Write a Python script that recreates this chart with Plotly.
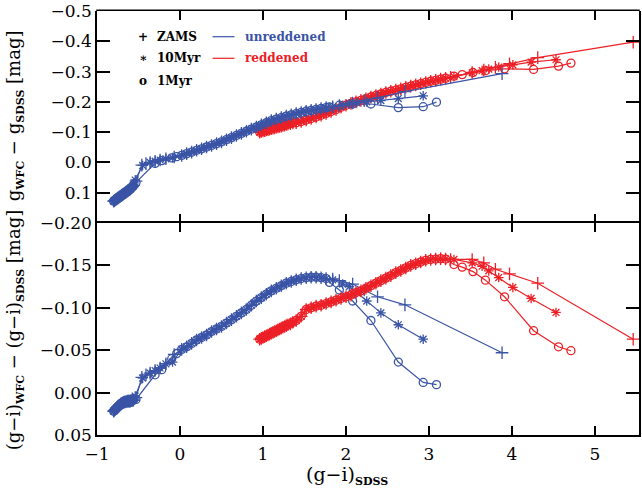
import plotly.graph_objects as go
from plotly.subplots import make_subplots

BLUE = '#3a54a6'
RED = '#ec2027'

# ---------------- unreddened (blue) ----------------
# shared clump of hot stars
bc_x = [-0.80, -0.79, -0.78, -0.77, -0.76, -0.75, -0.74, -0.73, -0.72, -0.71, -0.70, -0.69, -0.68,
        -0.67, -0.66, -0.65, -0.64, -0.63, -0.62, -0.61, -0.60, -0.59, -0.58, -0.57, -0.56]
bc_top = [0.128, 0.126, 0.124, 0.122, 0.120, 0.118, 0.116, 0.114, 0.112, 0.110, 0.108, 0.106, 0.104,
          0.102, 0.100, 0.098, 0.096, 0.094, 0.092, 0.090, 0.088, 0.085, 0.082, 0.079, 0.076]
bc_bot = [0.022, 0.021, 0.020, 0.019, 0.018, 0.017, 0.016, 0.015, 0.014, 0.013, 0.0125, 0.012, 0.0115,
          0.011, 0.011, 0.0105, 0.0105, 0.010, 0.010, 0.010, 0.010, 0.0095, 0.0095, 0.009, 0.009]

# shared early segment (ZAMS, 10Myr)
bm1_x = [-0.36, -0.30, -0.24, -0.17]
bm1_top = [0.000, -0.004, -0.008, -0.012]
bm1_bot = [-0.023, -0.026, -0.029, -0.034]

# shared main sequence (all ages)
bm2_x = [0.02, 0.08, 0.14, 0.20, 0.26, 0.32, 0.38, 0.44, 0.50, 0.56, 0.62, 0.68, 0.74, 0.80, 0.86,
         0.92, 0.98, 1.04, 1.10, 1.16, 1.22, 1.28, 1.34, 1.40, 1.46, 1.52, 1.58, 1.64, 1.70, 1.76]
bm2_top = [-0.023, -0.029, -0.034, -0.040, -0.045, -0.051, -0.056, -0.062, -0.068, -0.075, -0.082,
           -0.089, -0.096, -0.103, -0.110, -0.117, -0.124, -0.131, -0.138, -0.143, -0.148, -0.153,
           -0.157, -0.161, -0.165, -0.169, -0.172, -0.175, -0.178, -0.181]
bm2_bot = [-0.051, -0.054, -0.058, -0.062, -0.065, -0.068, -0.072, -0.075, -0.078, -0.082, -0.086,
           -0.090, -0.094, -0.098, -0.103, -0.108, -0.112, -0.116, -0.120, -0.123, -0.126, -0.129,
           -0.131, -0.133, -0.1345, -0.1355, -0.136, -0.136, -0.1355, -0.1345]

# blue ZAMS specific parts
bz_link_x = [-0.53, -0.46, -0.41]
bz_link_top = [0.062, 0.009, 0.004]
bz_link_bot = [0.006, -0.018, -0.021]
bz_mid_x = [-0.07]
bz_mid_top = [-0.018]
bz_mid_bot = [-0.045]
bz_tail_x = [1.84, 1.92, 2.08, 2.22, 2.38, 2.71, 3.88]
bz_tail_top = [-0.184, -0.188, -0.196, -0.204, -0.213, -0.234, -0.293]
bz_tail_bot = [-0.134, -0.132, -0.128, -0.121, -0.113, -0.1035, -0.047]

# blue 10 Myr specific parts
b10_link_x = [-0.54, -0.45]
b10_link_top = [0.058, 0.010]
b10_link_bot = [0.004, -0.017]
b10_mid_x = [-0.09]
b10_mid_top = [-0.016]
b10_mid_bot = [-0.036]
b10_tail_x = [1.84, 1.96, 2.04, 2.13, 2.25, 2.42, 2.63, 2.93]
b10_tail_top = [-0.184, -0.189, -0.193, -0.197, -0.200, -0.204, -0.211, -0.220]
b10_tail_bot = [-0.133, -0.128, -0.125, -0.118, -0.108, -0.094, -0.080, -0.063]

# blue 1 Myr specific parts
b1_link_x = [-0.53, -0.30, -0.22, -0.10, -0.04]
b1_link_top = [0.066, 0.003, -0.006, -0.015, -0.019]
b1_link_bot = [0.008, -0.021, -0.027, -0.040, -0.046]
b1_tail_x = [1.80, 1.92, 2.08, 2.30, 2.63, 2.93, 3.09]
b1_tail_top = [-0.183, -0.189, -0.193, -0.193, -0.181, -0.184, -0.199]
b1_tail_bot = [-0.130, -0.121, -0.108, -0.085, -0.036, -0.012, -0.0094]

# ---------------- reddened (red) ----------------
rc_x = [0.96, 0.98, 1.00, 1.02, 1.04, 1.06, 1.08, 1.10, 1.12, 1.14, 1.16, 1.18, 1.20, 1.22, 1.24,
        1.26, 1.28, 1.30, 1.33, 1.36]
rc_top = [-0.100, -0.102, -0.104, -0.105, -0.107, -0.108, -0.110, -0.111, -0.113, -0.114, -0.116,
          -0.117, -0.119, -0.120, -0.122, -0.123, -0.125, -0.126, -0.128, -0.130]
rc_bot = [-0.063, -0.064, -0.065, -0.066, -0.067, -0.068, -0.069, -0.070, -0.071, -0.072, -0.073,
          -0.074, -0.075, -0.076, -0.077, -0.078, -0.079, -0.080, -0.081, -0.083]

rm_x = [1.40, 1.46, 1.52, 1.58, 1.64, 1.70, 1.76, 1.82, 1.88, 1.94, 2.00, 2.06, 2.12, 2.18, 2.24,
        2.30, 2.36, 2.42, 2.48, 2.54, 2.60, 2.66, 2.72, 2.78, 2.84, 2.90, 2.96, 3.02, 3.08, 3.14, 3.20]
rm_top = [-0.131, -0.135, -0.140, -0.145, -0.150, -0.156, -0.162, -0.168, -0.175, -0.182, -0.189,
          -0.195, -0.200, -0.205, -0.210, -0.216, -0.221, -0.226, -0.231, -0.235, -0.239, -0.243,
          -0.248, -0.252, -0.256, -0.260, -0.264, -0.268, -0.271, -0.275, -0.278]
rm_bot = [-0.085, -0.090, -0.098, -0.100, -0.102, -0.103, -0.105, -0.107, -0.109, -0.111, -0.113,
          -0.115, -0.118, -0.120, -0.123, -0.126, -0.129, -0.132, -0.135, -0.138, -0.1415, -0.144,
          -0.147, -0.150, -0.152, -0.154, -0.156, -0.157, -0.1575, -0.158, -0.1575]

rz_tail_x = [3.26, 3.52, 3.66, 3.80, 3.97, 4.31, 5.46]
rz_tail_top = [-0.281, -0.297, -0.305, -0.314, -0.326, -0.346, -0.397]
rz_tail_bot = [-0.157, -0.157, -0.153, -0.1455, -0.140, -0.129, -0.063]

r10_tail_x = [3.30, 3.52, 3.64, 3.72, 3.84, 4.01, 4.23, 4.53]
r10_tail_top = [-0.283, -0.296, -0.303, -0.308, -0.315, -0.322, -0.331, -0.339]
r10_tail_bot = [-0.157, -0.153, -0.149, -0.1435, -0.1357, -0.124, -0.111, -0.0945]

r1_tail_x = [3.30, 3.40, 3.53, 3.68, 3.91, 4.26, 4.56, 4.71]
r1_tail_top = [-0.285, -0.290, -0.297, -0.303, -0.309, -0.307, -0.318, -0.328]
r1_tail_bot = [-0.151, -0.148, -0.1427, -0.1326, -0.113, -0.073, -0.054, -0.0494]

# tick labels
x_ticks = [-1, 0, 1, 2, 3, 4, 5]
x_labels = ['\u22121', '0', '1', '2', '3', '4', '5']
top_ticks = [-0.5, -0.4, -0.3, -0.2, -0.1, 0.0, 0.1]
top_labels = ['\u22120.5', '\u22120.4', '\u22120.3', '\u22120.2', '\u22120.1', '0.0', '0.1']
bot_ticks = [-0.20, -0.15, -0.10, -0.05, 0.00, 0.05]
bot_labels = ['\u22120.20', '\u22120.15', '\u22120.10', '\u22120.05', '0.00', '0.05']


def cat(*lists):
    out = []
    for l in lists:
        out += l
    return out


series = {
    'blue': [
        ('cross-thin-open',
         cat(bc_x, bz_link_x, bm1_x, bz_mid_x, bm2_x, bz_tail_x),
         cat(bc_top, bz_link_top, bm1_top, bz_mid_top, bm2_top, bz_tail_top),
         cat(bc_bot, bz_link_bot, bm1_bot, bz_mid_bot, bm2_bot, bz_tail_bot)),
        ('asterisk-open',
         cat(bc_x, b10_link_x, bm1_x, b10_mid_x, bm2_x, b10_tail_x),
         cat(bc_top, b10_link_top, bm1_top, b10_mid_top, bm2_top, b10_tail_top),
         cat(bc_bot, b10_link_bot, bm1_bot, b10_mid_bot, bm2_bot, b10_tail_bot)),
        ('circle-open',
         cat(bc_x, b1_link_x, bm2_x, b1_tail_x),
         cat(bc_top, b1_link_top, bm2_top, b1_tail_top),
         cat(bc_bot, b1_link_bot, bm2_bot, b1_tail_bot)),
    ],
    'red': [
        ('cross-thin-open', cat(rc_x, rm_x, rz_tail_x), cat(rc_top, rm_top, rz_tail_top),
         cat(rc_bot, rm_bot, rz_tail_bot)),
        ('asterisk-open', cat(rc_x, rm_x, r10_tail_x), cat(rc_top, rm_top, r10_tail_top),
         cat(rc_bot, rm_bot, r10_tail_bot)),
        ('circle-open', cat(rc_x, rm_x, r1_tail_x), cat(rc_top, rm_top, r1_tail_top),
         cat(rc_bot, rm_bot, r1_tail_bot)),
    ],
}
colors = {'blue': BLUE, 'red': RED}
msize = {'cross-thin-open': 9, 'asterisk-open': 8, 'circle-open': 8}

fig = make_subplots(rows=2, cols=1, shared_xaxes=True, vertical_spacing=0)


def add(group, row):
    for sym, xs, ytop, ybot in series[group]:
        fig.add_trace(go.Scatter(
            x=xs, y=ytop if row == 1 else ybot, mode='lines+markers',
            line=dict(color=colors[group], width=1.2),
            marker=dict(symbol=sym, size=msize[sym], color=colors[group],
                        line=dict(color=colors[group], width=1.3)),
            showlegend=False, hoverinfo='skip'), row=row, col=1)


add('red', 1)
add('blue', 1)
add('blue', 2)
add('red', 2)

W, H = 642, 492
ML, MR, MT, MB = 97, 1, 11, 57
PW, PH = W - ML - MR, H - MT - MB
LW = 1.5

SERIF = 'DejaVu Serif'
axis_common = dict(linecolor='black', linewidth=LW, mirror='ticks',
                   ticks='inside', tickcolor='black', tickwidth=1.5,
                   showgrid=False, zeroline=False)

fig.update_xaxes(range=[-1, 5.53], tickvals=x_ticks, ticklen=9, **axis_common)
# top panel: no own x line (the shared border comes from the lower panel; top border is a shape)
fig.update_xaxes(showline=False, showticklabels=False, row=1, col=1)
fig.update_xaxes(showline=True, showticklabels=True,
                 tickfont=dict(family=SERIF, size=17, color='black'),
                 ticktext=x_labels, ticklabelstandoff=3, row=2, col=1)
fig.update_yaxes(showline=True, range=[0.2, -0.5], tickvals=top_ticks, ticktext=top_labels,
                 ticklen=13, tickfont=dict(family=SERIF, size=17, color='black'),
                 row=1, col=1, **axis_common)
fig.update_yaxes(showline=True, range=[0.05, -0.2], tickvals=bot_ticks, ticktext=bot_labels,
                 ticklen=13, tickfont=dict(family=SERIF, size=17, color='black'),
                 row=2, col=1, **axis_common)
fig.layout.yaxis.domain = [0.5, 1.0]
fig.layout.yaxis2.domain = [0.0, 0.5]


def px(xp):
    return (xp - ML) / PW


def py(yp):
    return (H - MB - yp) / PH


ann = []
sub = lambda s: "<sub><span style='font-size:11px'><b>%s</b></span></sub>" % s
TFONT = dict(family=SERIF, size=18, color='black')
ann.append(dict(x=px(15), y=py(116), xref='paper', yref='paper', textangle=-90,
                text='g' + sub('WFC') + ' \u2212 g' + sub('SDSS') + ' [mag]',
                showarrow=False, font=TFONT, xanchor='center', yanchor='middle'))
ann.append(dict(x=px(15), y=py(330), xref='paper', yref='paper', textangle=-90,
                text='(g\u2212i)' + sub('WFC') + ' \u2212 (g\u2212i)' + sub('SDSS') + ' [mag]',
                showarrow=False, font=TFONT, xanchor='center', yanchor='middle'))
ann.append(dict(x=px(348), y=py(475), xref='paper', yref='paper',
                text='(g\u2212i)' + sub('SDSS'),
                showarrow=False, font=dict(family=SERIF, size=19, color='black'),
                xanchor='center', yanchor='middle'))

# legend (text + short lines)
leg_font = dict(family=SERIF, size=12, color='black')
for sym, lab, yp in [('+', 'ZAMS', 36.7), ('\u2217', '10Myr', 58.3), ('o', '1Myr', 81)]:
    ann.append(dict(x=px(143), y=py(yp), xref='paper', yref='paper', text='<b>%s</b>' % sym,
                    showarrow=False, font=leg_font, xanchor='center', yanchor='middle'))
    ann.append(dict(x=px(155), y=py(yp), xref='paper', yref='paper', text='<b>%s</b>' % lab,
                    showarrow=False, font=leg_font, xanchor='left', yanchor='middle'))
shapes = [dict(type='line', xref='paper', yref='paper', x0=-LW / 2 / PW, x1=1 + LW / 2 / PW,
               y0=1 + LW / 2 / PH, y1=1 + LW / 2 / PH, line=dict(color='black', width=LW))]
for col, lab, yp in [(BLUE, 'unreddened', 36.7), (RED, 'reddened', 58.3)]:
    shapes.append(dict(type='line', xref='paper', yref='paper', x0=px(213), x1=px(235),
                       y0=py(yp), y1=py(yp), line=dict(color=col, width=1.2)))
    ann.append(dict(x=px(244), y=py(yp), xref='paper', yref='paper', text='<b>%s</b>' % lab,
                    showarrow=False, font=dict(family=SERIF, size=12, color=col),
                    xanchor='left', yanchor='middle'))

fig.update_layout(width=W, height=H, margin=dict(l=ML, r=MR, t=MT, b=MB),
                  paper_bgcolor='white', plot_bgcolor='white',
                  annotations=ann, shapes=shapes, showlegend=False)

fig.write_html('out.html')
